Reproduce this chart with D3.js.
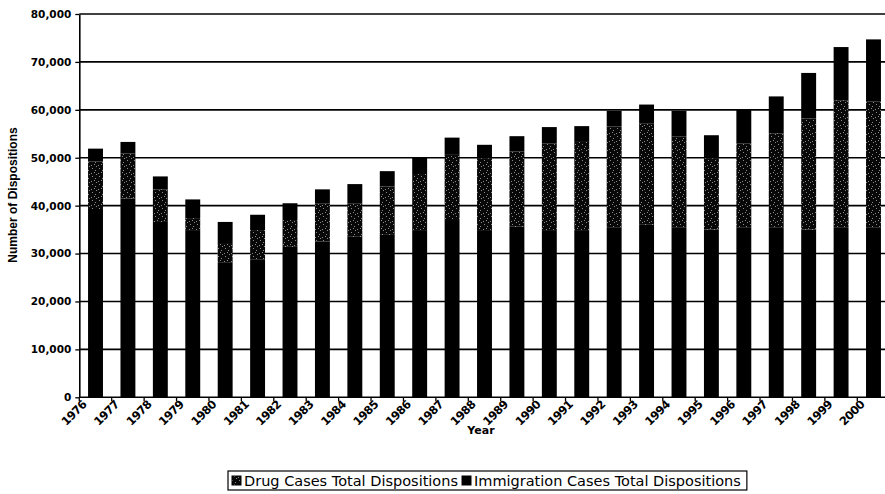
<html>
<head>
	<script src="https://d3js.org/d3.v7.min.js" charset="utf-8"></script>
	<style type="text/css">
	body {
		margin: 0;
		background: white;
	}
	svg text {
		fill: black;
	}
	</style>
</head>
<body>
<script type="text/javascript">
	// chart size
	var w = 885;
	var h = 494;

	// data (bottom black part has no legend entry)
	var years = ["1976","1977","1978","1979","1980","1981","1982","1983","1984","1985","1986","1987","1988",
		"1989","1990","1991","1992","1993","1994","1995","1996","1997","1998","1999","2000"];
	var otherCases = [39300,41500,36600,34900,28200,28700,31400,32500,33500,33900,34900,37000,34900,
		35600,34900,34900,35500,36000,35500,35000,35500,35500,35000,35500,35500];
	var drugCases = [9900,9400,6800,2500,4000,6200,5600,8000,7000,10100,11700,13600,15000,
		15700,18100,18400,21000,21200,18900,14900,17500,19600,23200,26500,26200];
	var immigrationCases = [2700,2400,2700,3900,4400,3200,3500,2900,4000,3200,3400,3600,2800,
		3200,3400,3300,3300,3900,5400,4800,7100,7700,9500,11100,13000];
	var yTicks = [0,10000,20000,30000,40000,50000,60000,70000,80000];
	var legendLabels = ["Drug Cases Total Dispositions", "Immigration Cases Total Dispositions"];

	var plotLeft = 79.3;
	var plotRight = 889.7;
	var plotTop = 14;
	var plotBottom = 397.3;

	var svg = d3.select("body")
		.append("svg")
		.attr("width", w)
		.attr("height", h);

	// speckled fill for the drug series
	var defs = svg.append("defs");
	var pat = defs.append("pattern")
		.attr("id", "speckle")
		.attr("patternUnits", "userSpaceOnUse")
		.attr("width", 7)
		.attr("height", 8);
	pat.append("rect").attr("width", 7).attr("height", 8).attr("fill", "#080808");
	var dots = [[1,0],[4,2],[0,5],[5,6],[3,4]];
	for (var i=0; i<dots.length; i++) {
		pat.append("rect")
			.attr("x", dots[i][0])
			.attr("y", dots[i][1])
			.attr("width", 1)
			.attr("height", 1)
			.attr("fill", "#8a8a8a");
	}

	var rows = [];
	for (var i=0; i<years.length; i++) {
		rows.push({year: years[i], other: otherCases[i], drug: drugCases[i], immigration: immigrationCases[i]});
	}
	var series = d3.stack().keys(["other","drug","immigration"])(rows);

	var x = d3.scaleBand()
		.domain(years)
		.range([plotLeft, plotRight])
		.paddingInner(0.54)
		.paddingOuter(0.27);
	var y = d3.scaleLinear()
		.domain([0, 80000])
		.range([plotBottom, plotTop]);

	// gridlines
	svg.append("g")
		.selectAll("line")
		.data(yTicks.slice(1))
		.enter().append("line")
		.attr("x1", plotLeft)
		.attr("x2", plotRight)
		.attr("y1", function(d) {return y(d);})
		.attr("y2", function(d) {return y(d);})
		.attr("stroke", "black")
		.attr("stroke-width", 1.6);

	// bars
	var fills = {other: "#000", drug: "url(#speckle)", immigration: "#000"};
	svg.append("g")
		.selectAll("g")
		.data(series)
		.enter().append("g")
		.attr("fill", function(d) {return fills[d.key];})
		.selectAll("rect")
		.data(function(d) {return d;})
		.enter().append("rect")
		.attr("x", function(d) {return x(d.data.year);})
		.attr("width", x.bandwidth())
		.attr("y", function(d) {return y(d[1]);})
		.attr("height", function(d) {return y(d[0]) - y(d[1]);});

	// y axis
	var yAxis = svg.append("g")
		.attr("transform", "translate(" + plotLeft + ",0)")
		.call(d3.axisLeft(y).tickValues(yTicks).tickSize(4).tickSizeOuter(0).tickPadding(4)
			.tickFormat(d3.format(",")));
	yAxis.select(".domain").attr("stroke-width", 1.6);
	yAxis.selectAll("line").attr("stroke-width", 1.3);
	yAxis.selectAll("text")
		.attr("font-family", "DejaVu Sans")
		.attr("font-weight", "bold")
		.attr("font-size", "10.5px")
		.attr("fill", "black");

	// x axis: ticks sit on the band edges and labels hang off them
	var step = x.step();
	function edge(d) {return x(d) - step*0.27;}
	var xg = svg.append("g");
	xg.append("line")
		.attr("x1", plotLeft)
		.attr("x2", plotRight)
		.attr("y1", plotBottom)
		.attr("y2", plotBottom)
		.attr("stroke", "black")
		.attr("stroke-width", 1.6);
	xg.selectAll(".tk")
		.data(years)
		.enter().append("line")
		.attr("class", "tk")
		.attr("x1", edge)
		.attr("x2", edge)
		.attr("y1", plotBottom)
		.attr("y2", plotBottom + 4)
		.attr("stroke", "black")
		.attr("stroke-width", 1.3);
	xg.selectAll(".lbl")
		.data(years)
		.enter().append("text")
		.attr("class", "lbl")
		.text(function(d) {return d;})
		.attr("text-anchor", "end")
		.attr("font-family", "DejaVu Sans")
		.attr("font-weight", "bold")
		.attr("font-size", "11.5px")
		.attr("letter-spacing", "-0.6px")
		.attr("transform", function(d) {
			return "translate(" + (edge(d) + 8) + "," + (plotBottom + 8) + ") rotate(-45)";
		});

	// axis titles
	svg.append("text")
		.text("Year")
		.attr("x", 481)
		.attr("y", 434)
		.attr("text-anchor", "middle")
		.attr("font-family", "DejaVu Sans")
		.attr("font-weight", "bold")
		.attr("font-size", "11px");
	svg.append("text")
		.text("Number of Dispositions")
		.attr("text-anchor", "middle")
		.attr("font-family", "Liberation Sans")
		.attr("font-weight", "bold")
		.attr("font-size", "12px")
		.attr("transform", "translate(17,195) rotate(-90)");

	// legend
	var legend = svg.append("g");
	var box = legend.append("rect")
		.attr("x", 228)
		.attr("y", 471)
		.attr("height", 19)
		.attr("fill", "white")
		.attr("stroke", "black")
		.attr("stroke-width", 1.2);
	var lx = 232;
	var swatchFills = ["url(#speckle)", "#000"];
	for (var i=0; i<legendLabels.length; i++) {
		legend.append("rect")
			.attr("x", lx)
			.attr("y", 476)
			.attr("width", 9)
			.attr("height", 9)
			.attr("fill", swatchFills[i])
			.attr("stroke", "black")
			.attr("stroke-width", 1);
		var t = legend.append("text")
			.text(legendLabels[i])
			.attr("x", lx + 12)
			.attr("y", 485.5)
			.attr("font-family", "DejaVu Sans")
			.attr("font-size", "14.5px");
		lx = lx + 12 + t.node().getComputedTextLength() + 4;
	}
	box.attr("width", lx - 228 + 2);
</script>
</body>
</html>
